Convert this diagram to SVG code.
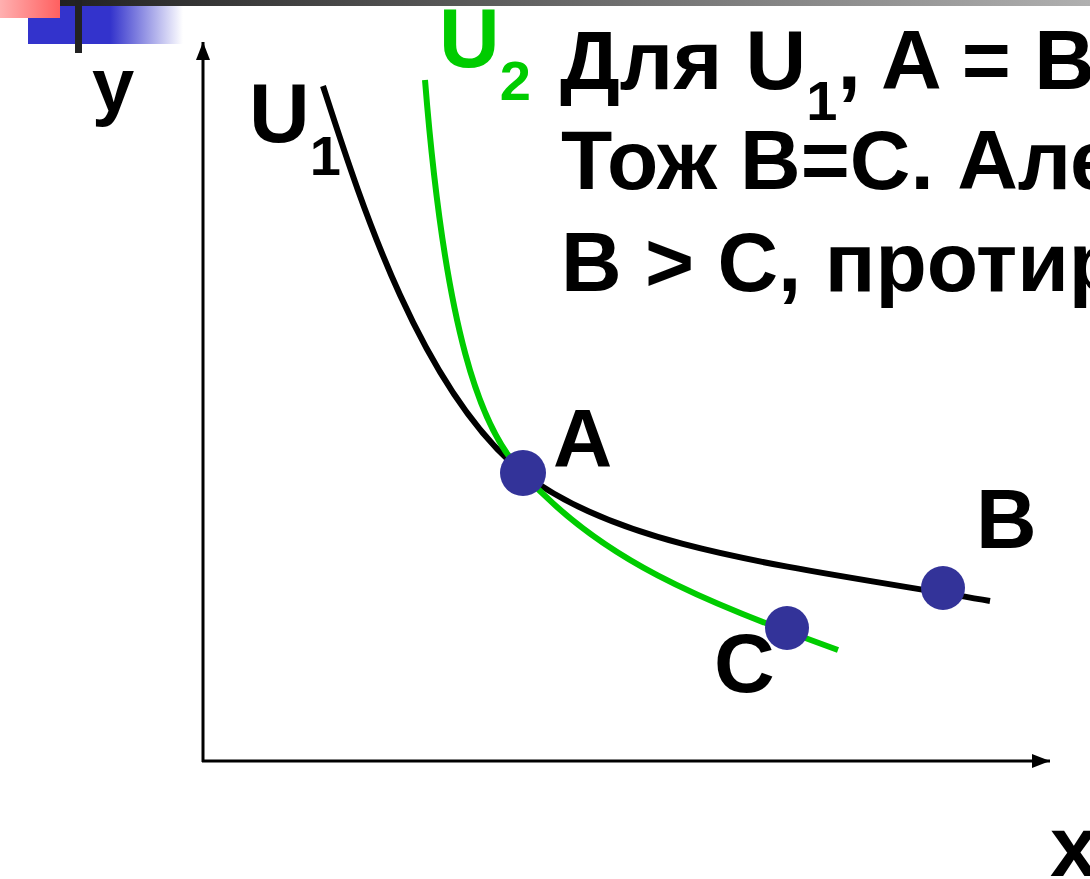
<svg xmlns="http://www.w3.org/2000/svg" width="1090" height="879" viewBox="0 0 1090 879">
<style>
.t{font-family:"Liberation Sans",Arial,sans-serif;font-weight:bold;fill:#000}
.g{fill:#00cc00}
.ax{stroke:#000;stroke-width:3;fill:none}
.dot{fill:#333399}
</style>
<defs>
<linearGradient id="bar" x1="0" x2="1" y1="0" y2="0"><stop offset="0" stop-color="#1a1a1a"/><stop offset="1" stop-color="#b0b0b0"/></linearGradient>
<linearGradient id="pink" x1="0" x2="1" y1="0" y2="0"><stop offset="0" stop-color="#ffb0b0"/><stop offset="1" stop-color="#ff6060"/></linearGradient>
<linearGradient id="blue" x1="28" x2="183" y1="0" y2="0" gradientUnits="userSpaceOnUse"><stop offset="0" stop-color="#3333cc"/><stop offset="0.53" stop-color="#3333cc"/><stop offset="1" stop-color="#ffffff"/></linearGradient>
<marker id="arr" viewBox="0 0 18 14" refX="18" refY="7" markerWidth="18" markerHeight="14" markerUnits="userSpaceOnUse" orient="auto"><path d="M0,0 L18,7 L0,14 Z" fill="#000"/></marker>
</defs>
<g id="decor">
<rect x="7" y="0" width="1083" height="6" fill="url(#bar)"/>
<rect x="28" y="6" width="155" height="38" fill="url(#blue)"/>
<rect x="0" y="0" width="60" height="18" fill="url(#pink)"/>
<rect x="75" y="0" width="7" height="53" fill="#222"/>
</g>
<g id="connectors">
<line class="ax" x1="203" y1="762" x2="203" y2="42" marker-end="url(#arr)"/>
<line class="ax" x1="202" y1="761" x2="1050" y2="761" marker-end="url(#arr)"/>
<path id="U1" d="M323,86 C360,200 420,390 523,473 C620,548 780,565 990,601" fill="none" stroke="#000" stroke-width="6"/>
<path id="U2" d="M425,80 C445,330 480,430 523,473 C600,560 700,600 838,650" fill="none" stroke="#00cc00" stroke-width="6"/>
</g>
<g id="pointA"><circle class="dot" cx="523" cy="473" r="23"/><text class="t" x="553" y="466" font-size="82">A</text></g>
<g id="pointB"><circle class="dot" cx="943" cy="588" r="22"/><text class="t" x="976" y="548" font-size="84">B</text></g>
<g id="pointC"><circle class="dot" cx="787" cy="628" r="22"/><text class="t" x="714" y="692" font-size="84">C</text></g>
<g id="labels">
<text class="t" x="92" y="111" font-size="76">y</text>
<text class="t" x="1050" y="876" font-size="86">x</text>
<text class="t" x="249" y="142" font-size="84">U<tspan font-size="56" dy="33">1</tspan></text>
<text class="t g" x="439" y="67" font-size="84">U<tspan font-size="56" dy="33">2</tspan></text>
</g>
<g id="statement">
<text class="t" x="560" y="89" font-size="84">Для U<tspan font-size="56" dy="31">1</tspan><tspan dy="-31">, A = B</tspan></text>
<text class="t" x="561" y="189" font-size="84">Тож B=C. Але</text>
<text class="t" x="561" y="291" font-size="84">B &gt; C, протиріччя</text>
</g>
</svg>
